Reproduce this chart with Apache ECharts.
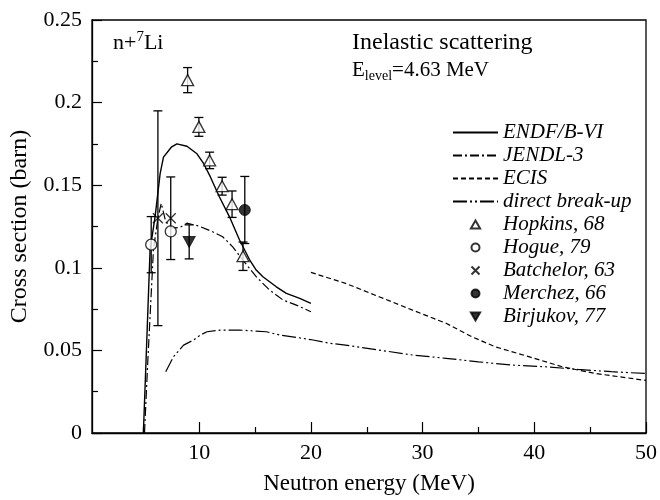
<!DOCTYPE html>
<html>
<head>
<meta charset="utf-8">
<script src="https://cdn.jsdelivr.net/npm/echarts@6/dist/echarts.min.js"></script>
<style>
  html, body { margin: 0; padding: 0; background: #fff; }
  #chart { width: 660px; height: 500px; }
</style>
</head>
<body>
<div id="chart"></div>
<script>
// Evaluated cross sections (MeV, barn)
const endfX = [5.0, 5.3, 5.6, 6.05, 6.5, 6.8, 7.5, 8.0, 8.9, 9.8, 10.4, 11.0, 11.8, 12.7, 13.6, 14.5, 15.1, 15.7, 16.9, 17.8, 19.0, 20.0];
const endfY = [0, 0.055, 0.111, 0.131, 0.157, 0.167, 0.173, 0.175, 0.1736, 0.169, 0.163, 0.155, 0.143, 0.131, 0.117, 0.105, 0.0986, 0.0946, 0.0885, 0.0845, 0.0815, 0.0785];

const jendlX = [5.1, 5.4, 5.9, 6.3, 6.6, 7.0, 7.6, 8.3, 8.9, 10.0, 11.2, 12.1, 13.0, 13.9, 15.1, 16.3, 17.5, 18.7, 20.0];
const jendlY = [0, 0.044, 0.111, 0.130, 0.139, 0.128, 0.124, 0.1245, 0.127, 0.1252, 0.1218, 0.1188, 0.1127, 0.1047, 0.0946, 0.0865, 0.0805, 0.0774, 0.0734];

const ecisX = [20, 23.1, 26.1, 29.1, 32.1, 34.4, 36.5, 39.5, 42.5, 45.4, 50];
const ecisY = [0.0972, 0.0906, 0.0825, 0.0744, 0.0664, 0.0583, 0.0522, 0.0462, 0.0401, 0.0361, 0.0318];

const breakupX = [7.0, 7.7, 8.6, 9.5, 10.1, 10.7, 11.9, 13.0, 13.6, 16.0, 17.2, 18.7, 20.2, 21.7, 23.1, 26.1, 29.1, 32.1, 35.0, 38.0, 41.0, 43.9, 46.9, 50];
const breakupY = [0.0371, 0.0462, 0.0532, 0.0563, 0.0593, 0.0613, 0.0623, 0.0623, 0.0623, 0.0613, 0.0593, 0.0579, 0.0563, 0.0543, 0.0532, 0.0502, 0.0472, 0.0452, 0.0431, 0.0411, 0.0401, 0.0385, 0.0371, 0.0360];

// Measurements: energy, cross section, uncertainty
const hopkinsX = [8.96, 9.97, 10.93, 12.05, 12.94, 13.92];
const hopkinsY = [0.2136, 0.1853, 0.165, 0.1494, 0.1385, 0.107];
const hopkinsErr = [0.0076, 0.0057, 0.005, 0.0054, 0.008, 0.0086];

const hogueX = [5.7, 7.45];
const hogueY = [0.114, 0.122];
const hogueErr = [0.017, 0];

const batchelorX = [6.3, 7.45];
const batchelorY = [0.130, 0.130];
const batchelorErr = [0.065, 0.025];

const merchezX = [14.08];
const merchezY = [0.135];
const merchezErr = [0.0203];

const birjukovX = [9.1];
const birjukovY = [0.1157];
const birjukovErr = [0.0103];

// Axis ticks
const xLabelTicks = [10, 20, 30, 40, 50];
const xMinorTicks = [5, 15, 25, 35, 45];

const curveNames = ['ENDF/B-VI', 'JENDL-3', 'ECIS', 'direct break-up'];
const pointNames = ['Hopkins, 68', 'Hogue, 79', 'Batchelor, 63', 'Merchez, 66', 'Birjukov, 77'];

const serif = 'Liberation Serif';

function pairs(xs, ys) { return xs.map((x, i) => [x, ys[i]]); }
function bars(xs, ys, es) {
  const out = [];
  xs.forEach((x, i) => { if (es[i] > 0) out.push([x, ys[i] - es[i], ys[i] + es[i]]); });
  return out;
}

const errorData = [].concat(
  bars(hopkinsX, hopkinsY, hopkinsErr),
  bars(hogueX, hogueY, hogueErr),
  bars(batchelorX, batchelorY, batchelorErr),
  bars(merchezX, merchezY, merchezErr),
  bars(birjukovX, birjukovY, birjukovErr)
);

const triUp = 'path://M5,0L10,8.66L0,8.66Z';
const triDown = 'path://M0,0L10,0L5,8.66Z';
const cross = 'path://M0,0L10,10M10,0L0,10';

const lineBase = {
  type: 'line', symbol: 'none', showSymbol: false, silent: true, z: 3,
  itemStyle: { color: '#000' }
};

// curve entries show only their line sample in the legend
const hiddenDot = { color: 'rgba(0,0,0,0)', borderColor: 'rgba(0,0,0,0)', borderWidth: 0, opacity: 0 };
const legendData = curveNames.map(n => ({ name: n, itemStyle: hiddenDot }))
  .concat(pointNames.map(n => ({ name: n })));

const chart = echarts.init(document.getElementById('chart'), null, { renderer: 'canvas' });

chart.setOption({
  animation: false,
  backgroundColor: '#fff',
  textStyle: { fontFamily: serif, color: '#000' },
  grid: {
    left: 92, right: 12, top: 20, bottom: 67,
    show: true, borderColor: '#000', borderWidth: 1.3, backgroundColor: 'transparent'
  },
  xAxis: [{
    type: 'value', min: 0.4, max: 50,
    name: 'Neutron energy (MeV)', nameLocation: 'middle', nameGap: 39,
    nameTextStyle: { fontFamily: serif, fontSize: 23, color: '#000' },
    axisLine: { show: true, lineStyle: { color: '#000', width: 1.3 } },
    axisTick: { show: true, inside: true, length: 11, customValues: xLabelTicks, lineStyle: { color: '#000', width: 1.2 } },
    axisLabel: { show: true, customValues: xLabelTicks, margin: 9, fontFamily: serif, fontSize: 22, color: '#000' },
    splitLine: { show: false }
  }, {
    type: 'value', min: 0.4, max: 50, position: 'bottom',
    axisLine: { show: false },
    axisTick: { show: true, inside: true, length: 6, customValues: xMinorTicks, lineStyle: { color: '#000', width: 1.2 } },
    axisLabel: { show: false },
    splitLine: { show: false }
  }],
  yAxis: {
    type: 'value', min: 0, max: 0.25, interval: 0.05,
    name: 'Cross section (barn)', nameLocation: 'middle', nameGap: 60,
    nameTextStyle: { fontFamily: serif, fontSize: 24, color: '#000' },
    axisLine: { show: true, lineStyle: { color: '#000', width: 1.3 } },
    axisTick: { show: true, inside: true, length: 10, lineStyle: { color: '#000', width: 1.2 } },
    minorTick: { show: true, splitNumber: 2, length: 6, lineStyle: { color: '#000', width: 1.2 } },
    axisLabel: { margin: 10, fontFamily: serif, fontSize: 22, color: '#000' },
    splitLine: { show: false }
  },
  legend: {
    orient: 'vertical', left: 447, top: 117,
    itemWidth: 45, itemHeight: 8, itemGap: 2,
    selectedMode: false,
    textStyle: { fontFamily: serif, fontStyle: 'italic', fontSize: 21, color: '#000' },
    data: legendData
  },
  graphic: [
    {
      type: 'text', left: 113, top: 30,
      style: {
        text: '{n|n+}{s|7}{n|Li}',
        rich: {
          n: { fontFamily: serif, fontSize: 22, lineHeight: 27, fill: '#000' },
          s: { fontFamily: serif, fontSize: 15, lineHeight: 15, verticalAlign: 'top', fill: '#000' }
        }
      }
    },
    {
      type: 'text', left: 352, top: 31,
      style: { text: 'Inelastic scattering', fontFamily: serif, fontSize: 24, fill: '#000' }
    },
    {
      type: 'text', left: 352, top: 60,
      style: {
        text: '{e|E}{b|level}{e|=4.63 MeV}',
        rich: {
          e: { fontFamily: serif, fontSize: 21, lineHeight: 26, fill: '#000' },
          b: { fontFamily: serif, fontSize: 14, lineHeight: 13, verticalAlign: 'bottom', fill: '#000' }
        }
      }
    }
  ],
  series: [
    Object.assign({}, lineBase, {
      name: curveNames[0], data: pairs(endfX, endfY),
      lineStyle: { color: '#000', width: 1.4, type: 'solid' }
    }),
    Object.assign({}, lineBase, {
      name: curveNames[1], data: pairs(jendlX, jendlY),
      lineStyle: { color: '#000', width: 1.2, type: [9, 3, 2, 3] }
    }),
    Object.assign({}, lineBase, {
      name: curveNames[2], data: pairs(ecisX, ecisY),
      lineStyle: { color: '#000', width: 1.2, type: [5, 3] }
    }),
    Object.assign({}, lineBase, {
      name: curveNames[3], data: pairs(breakupX, breakupY),
      lineStyle: { color: '#000', width: 1.2, type: [14, 3, 2, 3, 2, 3] }
    }),
    {
      type: 'custom', name: 'uncertainty', silent: true, z: 4,
      data: errorData,
      renderItem: function (params, api) {
        const x = api.value(0);
        const top = api.coord([x, api.value(2)]);
        const bot = api.coord([x, api.value(1)]);
        const w = 4.5;
        const st = { stroke: '#000', lineWidth: 1.3 };
        return {
          type: 'group',
          children: [
            { type: 'line', shape: { x1: top[0], y1: top[1], x2: bot[0], y2: bot[1] }, style: st },
            { type: 'line', shape: { x1: top[0] - w, y1: top[1], x2: top[0] + w, y2: top[1] }, style: st },
            { type: 'line', shape: { x1: bot[0] - w, y1: bot[1], x2: bot[0] + w, y2: bot[1] }, style: st }
          ]
        };
      }
    },
    {
      type: 'scatter', name: pointNames[0], data: pairs(hopkinsX, hopkinsY), z: 5, silent: true,
      symbol: triUp, symbolSize: [12, 11],
      itemStyle: { color: '#fff', borderColor: '#000', borderWidth: 1.3 }
    },
    {
      type: 'scatter', name: pointNames[1], data: pairs(hogueX, hogueY), z: 5, silent: true,
      symbol: 'circle', symbolSize: 11,
      itemStyle: { color: '#fff', borderColor: '#000', borderWidth: 1.3 }
    },
    {
      type: 'scatter', name: pointNames[2], data: pairs(batchelorX, batchelorY), z: 5, silent: true,
      symbol: cross, symbolSize: 10,
      itemStyle: { color: 'rgba(0,0,0,0)', borderColor: '#000', borderWidth: 1.3 }
    },
    {
      type: 'scatter', name: pointNames[3], data: pairs(merchezX, merchezY), z: 5, silent: true,
      symbol: 'circle', symbolSize: 11,
      itemStyle: { color: '#000', borderColor: '#000', borderWidth: 1 }
    },
    {
      type: 'scatter', name: pointNames[4], data: pairs(birjukovX, birjukovY), z: 5, silent: true,
      symbol: triDown, symbolSize: [12, 11],
      itemStyle: { color: '#000', borderColor: '#000', borderWidth: 1 }
    }
  ]
});
</script>
</body>
</html>
